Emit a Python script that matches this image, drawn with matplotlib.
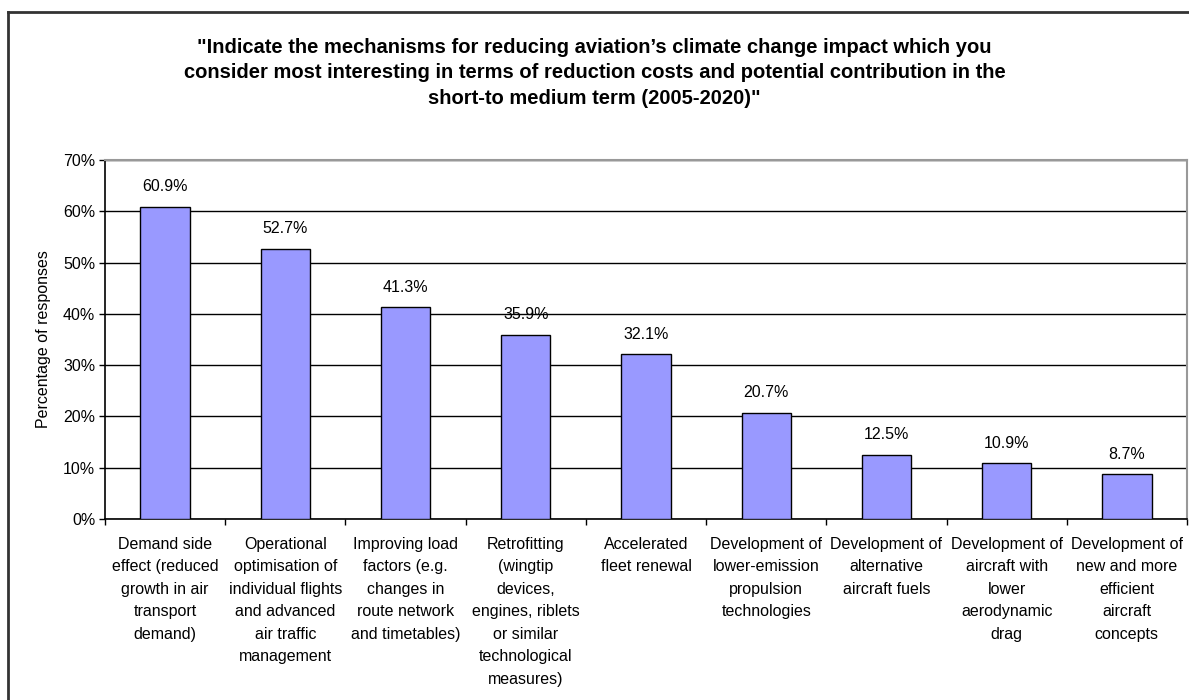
import numpy as np
import matplotlib
matplotlib.use('Agg')
import matplotlib.pyplot as plt
from matplotlib.lines import Line2D
from matplotlib.ticker import FuncFormatter, FixedLocator

plt.rcParams['font.family'] = ['Liberation Sans', 'DejaVu Sans']

title = ('"Indicate the mechanisms for reducing aviation\u2019s climate change impact which you\n'
         'consider most interesting in terms of reduction costs and potential contribution in the\n'
         'short-to medium term (2005-2020)"')

categories = [
    'Demand side\neffect (reduced\ngrowth in air\ntransport\ndemand)',
    'Operational\noptimisation of\nindividual flights\nand advanced\nair traffic\nmanagement',
    'Improving load\nfactors (e.g.\nchanges in\nroute network\nand timetables)',
    'Retrofitting\n(wingtip\ndevices,\nengines, riblets\nor similar\ntechnological\nmeasures)',
    'Accelerated\nfleet renewal',
    'Development of\nlower-emission\npropulsion\ntechnologies',
    'Development of\nalternative\naircraft fuels',
    'Development of\naircraft with\nlower\naerodynamic\ndrag',
    'Development of\nnew and more\nefficient\naircraft\nconcepts',
]
values = [60.9, 52.7, 41.3, 35.9, 32.1, 20.7, 12.5, 10.9, 8.7]
yticks = [0, 10, 20, 30, 40, 50, 60, 70]

fig = plt.figure(figsize=(11.89, 7.0), dpi=100)
ax = fig.add_axes([0.0883, 0.2586, 0.9100, 0.5128])

x = np.arange(len(values))
ax.bar(x, values, width=0.41, color='#9999FF', edgecolor='black', linewidth=1.0, zorder=3)
for xi, v in zip(x, values):
    ax.annotate('%.1f%%' % v, (xi, v), xytext=(0, 9), textcoords='offset points',
                ha='center', va='bottom', fontsize=11.5)

ax.set_xlim(-0.5, len(values) - 0.5)
ax.set_ylim(0, 70)
ax.set_yticks(yticks)
ax.yaxis.set_major_formatter(FuncFormatter(lambda v, p: '%d%%' % v))
ax.yaxis.grid(True, color='black', linewidth=1.0, zorder=0)
ax.set_axisbelow(True)

ax.set_xticks(x)
ax.set_xticklabels(categories, fontsize=11.5, linespacing=1.62, va='top')
ax.tick_params(axis='x', which='major', length=0, pad=13)
ax.xaxis.set_minor_locator(FixedLocator(np.arange(-0.5, len(values), 1.0)))
ax.tick_params(axis='x', which='minor', length=4, width=1, direction='out')
ax.tick_params(axis='y', length=4, width=1, labelsize=11.5, pad=3)

ax.set_ylabel('Percentage of responses', fontsize=11.5, labelpad=9)

for s in ['left', 'bottom']:
    ax.spines[s].set_color('black')
    ax.spines[s].set_linewidth(1.2)
for s in ['top', 'right']:
    ax.spines[s].set_color('#999999')
    ax.spines[s].set_linewidth(1.5)

fig.text(0.5, 1 - 73 / 700, title, ha='center', va='center', fontsize=14.5,
         fontweight='bold', linespacing=1.45)

# outer chart border (top and left are visible)
fig.add_artist(Line2D([8 / 1189, 1.0], [1 - 12 / 700, 1 - 12 / 700], color='#333333', linewidth=2))
fig.add_artist(Line2D([8 / 1189, 8 / 1189], [0, 1 - 12 / 700], color='#333333', linewidth=2))

fig.savefig('out.png', dpi=100)
